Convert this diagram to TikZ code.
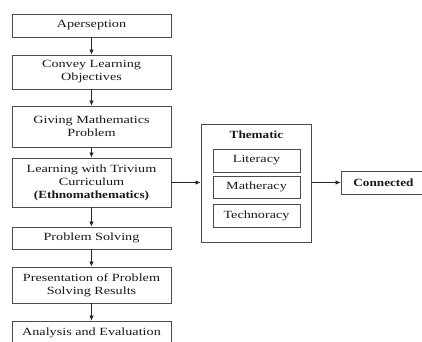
\documentclass[tikz,border=0pt]{standalone}
\usepackage{fontspec}
\setmainfont{Liberation Serif}[FakeStretch=1.29, BoldFeatures={FakeStretch=1.2}]
\usetikzlibrary{arrows.meta}

\tikzset{
	stepbox/.style={shape=rectangle, draw=black!70, line width=0.9pt, minimum width=159pt, align=center, inner sep=0pt, text=black!90, font=\fontsize{11}{13}\selectfont},
	subbox/.style={stepbox, minimum width=87pt},
	flow/.style={draw=black!85, line width=0.8pt, -{Latex[length=5pt,width=4.5pt]}}
}

\begin{document}
\begin{tikzpicture}[x=1pt, y=-1pt]
		\clip (0,0) rectangle (422,341);
		% Steps of the lesson:
		\node[stepbox, minimum height=23pt] (apersep) at (91.5, 25.5){Aperseption};
		\node[stepbox, minimum height=34pt] (convey) at (91.5, 72){Convey Learning\\Objectives};
		\node[stepbox, minimum height=41pt] (giving) at (91.5, 126.5){Giving Mathematics\\Problem};
		\node[stepbox, minimum height=49pt] (trivium) at (91.5, 182.5){Learning with Trivium\\Curriculum\\\textbf{(Ethnomathematics)}};
		\node[stepbox, minimum height=22pt] (solving) at (91.5, 238){Problem Solving};
		\node[stepbox, minimum height=36pt] (present) at (91.5, 285){Presentation of Problem\\Solving Results};
		\node[stepbox, minimum height=24pt] (analysis) at (91.5, 333){Analysis and Evaluation};
		% Thematic block and result:
		\node[stepbox, minimum width=110.5pt, minimum height=118pt] (thematic) at (256.25, 183){};
		\node[stepbox, draw=none, anchor=base] (themtitle) at (256.5, 138){\textbf{Thematic}};
		\node[subbox, minimum height=23pt] (literacy) at (256.5, 160.5){Literacy};
		\node[subbox, minimum height=22pt] (matheracy) at (256.5, 187){Matheracy};
		\node[subbox, minimum height=23pt] (technoracy) at (256.5, 215.5){Technoracy};
		\node[stepbox, minimum width=85pt, minimum height=23pt] (connected) at (383.5, 182.5){\textbf{Connected}};
		% Wires:
		\draw[flow] (apersep) -- (convey);
		\draw[flow] (convey) -- (giving);
		\draw[flow] (giving) -- (trivium);
		\draw[flow] (trivium) -- (solving);
		\draw[flow] (solving) -- (present);
		\draw[flow] (present) -- (analysis);
		\draw[flow] (trivium.east) -- (trivium.east -| thematic.west);
		\draw[flow] (thematic.east |- connected.west) -- (connected.west);
	\end{tikzpicture}
\end{document}
